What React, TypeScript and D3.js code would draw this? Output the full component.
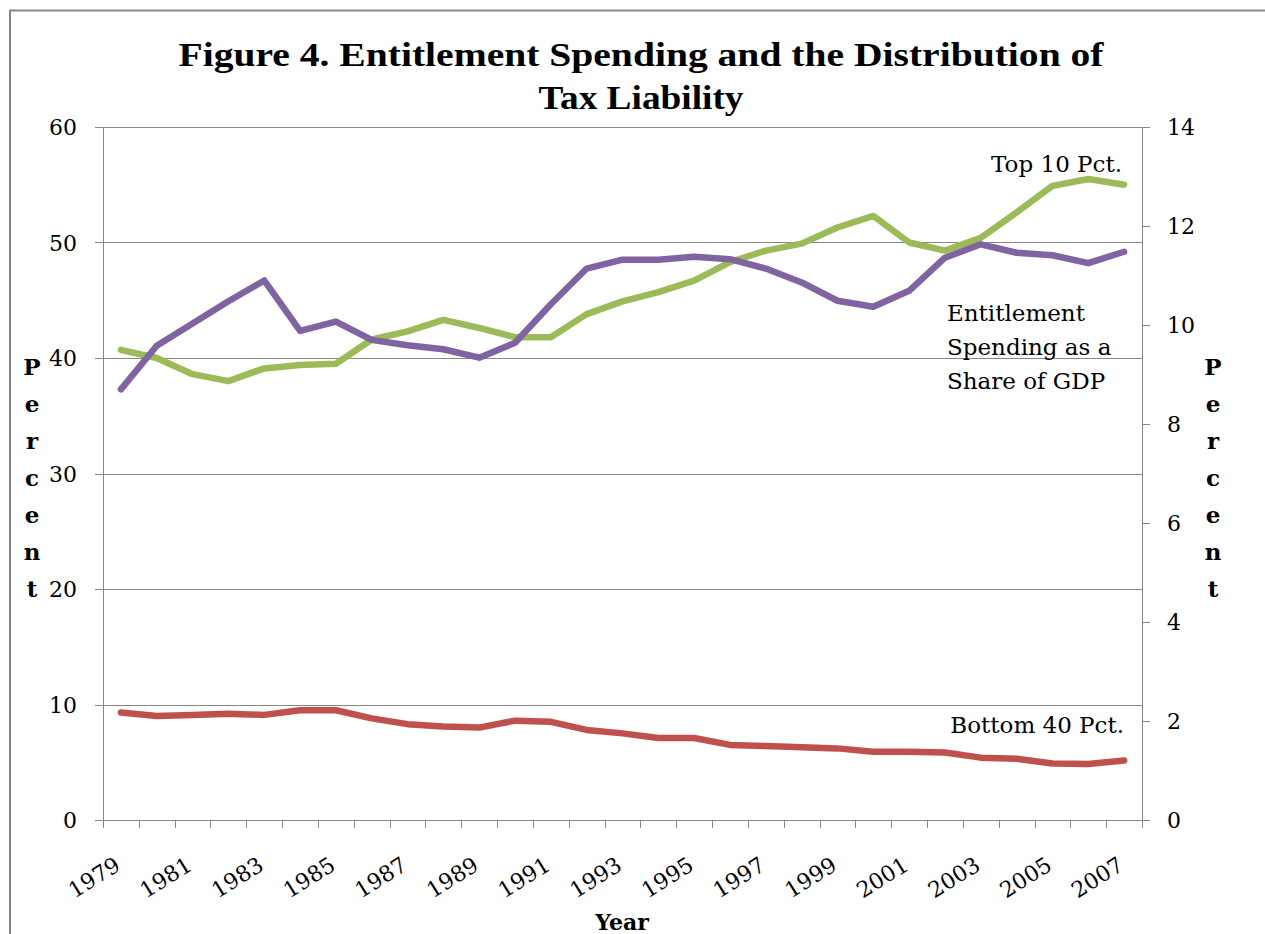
import React from "react";
import * as d3 from "d3";

const years = [
  "1979","1980","1981","1982","1983","1984","1985","1986","1987","1988",
  "1989","1990","1991","1992","1993","1994","1995","1996","1997","1998",
  "1999","2000","2001","2002","2003","2004","2005","2006","2007",
];
const top10Pct = [
  40.7, 40.0, 38.6, 38.0, 39.1, 39.4, 39.5, 41.6, 42.3, 43.3,
  42.6, 41.8, 41.8, 43.8, 44.9, 45.7, 46.7, 48.3, 49.3, 49.9,
  51.3, 52.3, 50.0, 49.3, 50.4, 52.6, 54.9, 55.5, 55.0,
];
const bottom40Pct = [
  9.3, 9.0, 9.1, 9.2, 9.1, 9.5, 9.5, 8.8, 8.3, 8.1,
  8.0, 8.6, 8.5, 7.8, 7.5, 7.1, 7.1, 6.5, 6.4, 6.3,
  6.2, 5.9, 5.9, 5.85, 5.4, 5.3, 4.9, 4.85, 5.15,
];
const entitlementGDP = [
  8.70, 9.58, 10.03, 10.48, 10.90, 9.88, 10.07, 9.70, 9.59, 9.51,
  9.34, 9.64, 10.42, 11.14, 11.32, 11.32, 11.38, 11.33, 11.14, 10.86,
  10.49, 10.37, 10.69, 11.36, 11.63, 11.46, 11.41, 11.25, 11.48,
];
const leftTicks = [0, 10, 20, 30, 40, 50, 60];
const rightTicks = [0, 2, 4, 6, 8, 10, 12, 14];
const yAxisLetters = ["P", "e", "r", "c", "e", "n", "t"];

const W = 1265;
const H = 934;
const X0 = 103;
const X1 = 1142;
const Y0 = 820;
const Y1 = 127;
const GRID = "#868686";
const SERIF = "'DejaVu Serif', serif";

export default function App() {
  const x = d3.scaleBand<string>().domain(years).range([X0, X1]).padding(0);
  const yL = d3.scaleLinear().domain([0, 60]).range([Y0, Y1]);
  const yR = d3.scaleLinear().domain([0, 14]).range([Y0, Y1]);
  const cx = (y: string) => (x(y) as number) + x.bandwidth() / 2;

  const lineL = d3
    .line<number>()
    .x((_, i) => cx(years[i]))
    .y((d) => yL(d));
  const lineR = d3
    .line<number>()
    .x((_, i) => cx(years[i]))
    .y((d) => yR(d));

  const boundaries = years.map((y) => x(y) as number).concat([X1]);

  return (
    <svg
      width={W}
      height={H}
      style={{ position: "absolute", left: 0, top: 0, background: "#fff" }}
    >
      <rect x={0} y={0} width={W} height={H} fill="#fff" />
      <rect x={10} y={10.5} width={W + 20} height={H + 20} fill="none" stroke={GRID} strokeWidth={2} />

      <text x={641} y={66} textAnchor="middle" fontFamily="'Liberation Serif', serif" fontWeight="bold" fontSize={34} textLength={925} lengthAdjust="spacingAndGlyphs">
        Figure 4. Entitlement Spending and the Distribution of
      </text>
      <text x={641} y={109} textAnchor="middle" fontFamily="'Liberation Serif', serif" fontWeight="bold" fontSize={34} textLength={205} lengthAdjust="spacingAndGlyphs">
        Tax Liability
      </text>

      {/* gridlines */}
      {leftTicks.filter((t) => t > 0).map((t) => (
        <line key={"g" + t} x1={X0} x2={X1} y1={Math.round(yL(t)) + 0.5} y2={Math.round(yL(t)) + 0.5} stroke={GRID} strokeWidth={1} />
      ))}

      {/* left axis */}
      <line x1={X0 + 0.5} x2={X0 + 0.5} y1={Y1} y2={Y0} stroke={GRID} strokeWidth={1} />
      {leftTicks.map((t) => (
        <g key={"l" + t}>
          <line x1={95} x2={X0} y1={Math.round(yL(t)) + 0.5} y2={Math.round(yL(t)) + 0.5} stroke={GRID} />
          <text x={77} y={yL(t) + 8} textAnchor="end" fontFamily={SERIF} fontSize={22} fill="#000">
            {t}
          </text>
        </g>
      ))}

      {/* right axis */}
      <line x1={X1 + 0.5} x2={X1 + 0.5} y1={Y1} y2={Y0} stroke={GRID} strokeWidth={1} />
      {rightTicks.map((t) => (
        <g key={"r" + t}>
          <line x1={X1} x2={1150} y1={Math.round(yR(t)) + 0.5} y2={Math.round(yR(t)) + 0.5} stroke={GRID} />
          <text x={1167} y={yR(t) + 8} textAnchor="start" fontFamily={SERIF} fontSize={22} fill="#000">
            {t}
          </text>
        </g>
      ))}

      {/* bottom axis */}
      <line x1={X0} x2={X1 + 1} y1={Y0 + 0.5} y2={Y0 + 0.5} stroke={GRID} strokeWidth={1} />
      {boundaries.map((b, i) => (
        <line key={"b" + i} x1={Math.round(b) + 0.5} x2={Math.round(b) + 0.5} y1={Y0} y2={828} stroke={GRID} />
      ))}
      {years.filter((_, i) => i % 2 === 0).map((y) => (
        <text key={"x" + y} transform={`translate(${cx(y) + 1},${869}) rotate(-32)`} textAnchor="end" fontFamily={SERIF} fontSize={22} fill="#000">
          {y}
        </text>
      ))}
      <text x={622} y={930} textAnchor="middle" fontFamily={SERIF} fontWeight="bold" fontSize={22}>
        Year
      </text>

      {/* axis titles */}
      {yAxisLetters.map((c, i) => (
        <g key={"p" + i}>
          <text x={32} y={375 + i * 37} textAnchor="middle" fontFamily={SERIF} fontWeight="bold" fontSize={23}>
            {c}
          </text>
          <text x={1213} y={375 + i * 37} textAnchor="middle" fontFamily={SERIF} fontWeight="bold" fontSize={23}>
            {c}
          </text>
        </g>
      ))}

      {/* series */}
      <path d={lineL(bottom40Pct) || ""} fill="none" stroke="#C0504D" strokeWidth={6.5} strokeLinejoin="round" strokeLinecap="round" />
      <path d={lineL(top10Pct) || ""} fill="none" stroke="#9BBB59" strokeWidth={6.5} strokeLinejoin="round" strokeLinecap="round" />
      <path d={lineR(entitlementGDP) || ""} fill="none" stroke="#8064A2" strokeWidth={6.5} strokeLinejoin="round" strokeLinecap="round" />

      {/* annotations */}
      <text x={1122} y={172} textAnchor="end" fontFamily={SERIF} fontSize={23}>
        Top 10 Pct.
      </text>
      <text x={947} y={321} fontFamily={SERIF} fontSize={23}>
        Entitlement
      </text>
      <text x={947} y={355} fontFamily={SERIF} fontSize={23}>
        Spending as a
      </text>
      <text x={947} y={389} fontFamily={SERIF} fontSize={23}>
        Share of GDP
      </text>
      <text x={1124} y={733} textAnchor="end" fontFamily={SERIF} fontSize={23}>
        Bottom 40 Pct.
      </text>
    </svg>
  );
}
